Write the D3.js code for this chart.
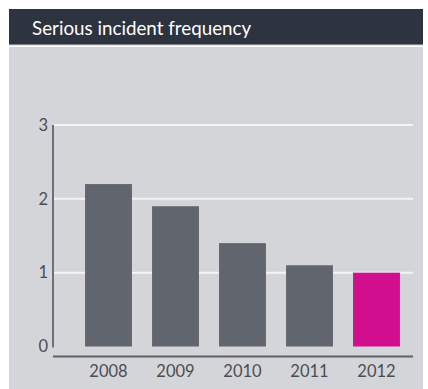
<!DOCTYPE html>
<html>
<head>
<meta charset="utf-8">
<script src="https://cdn.jsdelivr.net/npm/d3@7"></script>
<style>
  body { margin: 0; background: #fff; }
  svg text { font-family: Lato, "Open Sans", sans-serif; }
</style>
</head>
<body>
<div id="chart"></div>
<script>
// data
const years = ['2008', '2009', '2010', '2011', '2012'];
const frequency = [2.2, 1.9, 1.4, 1.1, 1.0];
const yTicks = [0, 1, 2, 3];
const title = 'Serious incident frequency';

const W = 428, H = 389;

const svg = d3.select('#chart').append('svg')
    .attr('width', W)
    .attr('height', H);

// panel + title bar
svg.append('rect').attr('x', 9).attr('y', 47).attr('width', 414).attr('height', H - 47).attr('fill', '#d4d5d9');
svg.append('rect').attr('x', 9).attr('y', 9).attr('width', 414).attr('height', 35).attr('fill', '#2e3340');
svg.append('rect').attr('x', 9).attr('y', 44).attr('width', 414).attr('height', 1.2).attr('fill', '#7e838b');
svg.append('text')
    .attr('x', 32).attr('y', 34.5)
    .attr('fill', '#fff')
    .attr('font-size', 18.8)
    .text(title);

// scales
const x = d3.scaleBand()
    .domain(years)
    .range([75, 410])
    .paddingInner(0.3)
    .paddingOuter(0.15);

const y = d3.scaleLinear()
    .domain([0, 3])
    .range([346.5, 125]);

// gridlines
svg.append('g')
    .selectAll('line')
    .data(yTicks.filter(d => d > 0))
    .join('line')
    .attr('x1', 54).attr('x2', 413)
    .attr('y1', d => y(d)).attr('y2', d => y(d))
    .attr('stroke', '#f4f4f5')
    .attr('stroke-width', 2);

// bars
svg.append('g')
    .selectAll('rect')
    .data(years)
    .join('rect')
    .attr('x', d => x(d))
    .attr('width', x.bandwidth())
    .attr('y', (d, i) => y(frequency[i]))
    .attr('height', (d, i) => y(0) - y(frequency[i]))
    .attr('fill', (d, i) => i === years.length - 1 ? '#d10f8e' : '#61656d');

// y axis
const yAxis = svg.append('g')
    .attr('transform', 'translate(53,0)')
    .call(d3.axisLeft(y).tickValues(yTicks).tickFormat(d3.format('d')).tickSize(0).tickPadding(5));
yAxis.select('.domain').attr('stroke', '#6d7077').attr('stroke-width', 2)
    .attr('d', `M0,${y(3)}V${y(0) + 1}`);
yAxis.selectAll('text').attr('font-size', 16.5).attr('fill', '#4c4d52');

// x axis
const xAxis = svg.append('g')
    .attr('transform', 'translate(0,356.5)')
    .call(d3.axisBottom(x).tickSize(0).tickPadding(8.5));
xAxis.select('.domain').attr('stroke', '#5d6066').attr('stroke-width', 2)
    .attr('d', 'M53,0H413');
xAxis.selectAll('text').attr('font-size', 16.5).attr('fill', '#4c4d52');
</script>
</body>
</html>
